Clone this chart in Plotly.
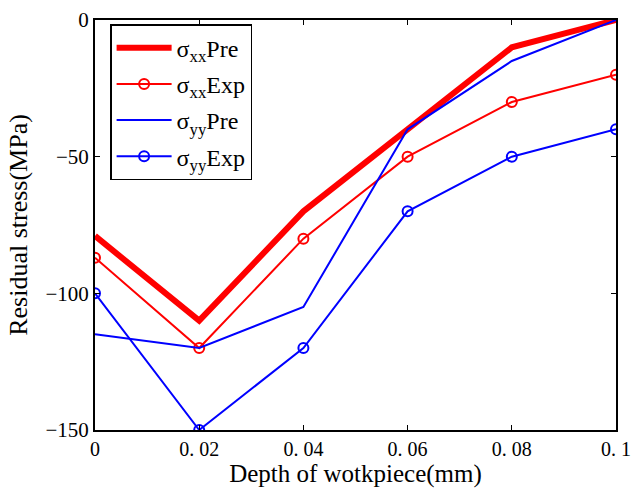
import plotly.graph_objects as go

depth = [0, 0.02, 0.04, 0.06, 0.08, 0.1]
sxx_pre = [-79, -110, -70, -40, -10, 0]
sxx_exp = [-87, -120, -80, -50, -30, -20]
syy_pre = [-115, -120, -105, -40, -15, 0]
syy_exp = [-100, -150, -120, -70, -50, -40]

xtick_vals = [0, 0.02, 0.04, 0.06, 0.08, 0.1]
xtick_text = ["0", "0. 02", "0. 04", "0. 06", "0. 08", "0. 1"]
ytick_vals = [0, -50, -100, -150]
ytick_text = ["0", "\u221250", "\u2212100", "\u2212150"]

font = "Liberation Serif"
fig = go.Figure()
fig.add_trace(go.Scatter(x=depth, y=sxx_pre, mode="lines", name="σ<sub>xx</sub>Pre",
                         legendgroup="a",
                         line=dict(color="#ff0000", width=6)))
fig.add_trace(go.Scatter(x=depth, y=sxx_exp, mode="lines+markers", name="σ<sub>xx</sub>Exp",
                         legendgroup="b",
                         line=dict(color="#ff0000", width=2),
                         marker=dict(symbol="circle-open", size=10, color="#ff0000", line=dict(width=2))))
fig.add_trace(go.Scatter(x=depth, y=syy_pre, mode="lines", name="σ<sub>yy</sub>Pre",
                         legendgroup="c",
                         line=dict(color="#0000ff", width=2)))
fig.add_trace(go.Scatter(x=depth, y=syy_exp, mode="lines+markers", name="σ<sub>yy</sub>Exp",
                         legendgroup="d",
                         line=dict(color="#0000ff", width=2),
                         marker=dict(symbol="circle-open", size=10, color="#0000ff", line=dict(width=2))))

fig.update_layout(
    width=641, height=488,
    margin=dict(l=95, r=25, t=20, b=58, autoexpand=False),
    paper_bgcolor="white", plot_bgcolor="white",
    font=dict(family=font, size=20, color="black"),
    showlegend=True,
    legend=dict(x=0.029, y=0.99, xanchor="left", yanchor="top",
                bordercolor="black", borderwidth=1.5, bgcolor="white",
                font=dict(family=font, size=24), tracegroupgap=2,
                itemwidth=55),
    xaxis=dict(range=[0, 0.1], tickvals=xtick_vals, ticktext=xtick_text,
               ticks="inside", ticklen=5, tickwidth=1, tickcolor="black",
               showline=True, linecolor="black", linewidth=2, mirror="allticks",
               showgrid=False, zeroline=False, automargin=True,
               title=dict(text="Depth of wotkpiece(mm)", font=dict(family=font, size=25), standoff=3),
               tickfont=dict(family=font, size=20)),
    yaxis=dict(range=[-150, 0], tickvals=ytick_vals, ticktext=ytick_text,
               ticks="inside", ticklen=5, tickwidth=1, tickcolor="black",
               showline=True, linecolor="black", linewidth=2, mirror="allticks",
               showgrid=False, zeroline=False, automargin=True,
               title=dict(text="Residual stress(MPa)", font=dict(family=font, size=26), standoff=10),
               tickfont=dict(family=font, size=21)),
)
fig.write_html("out.html")
